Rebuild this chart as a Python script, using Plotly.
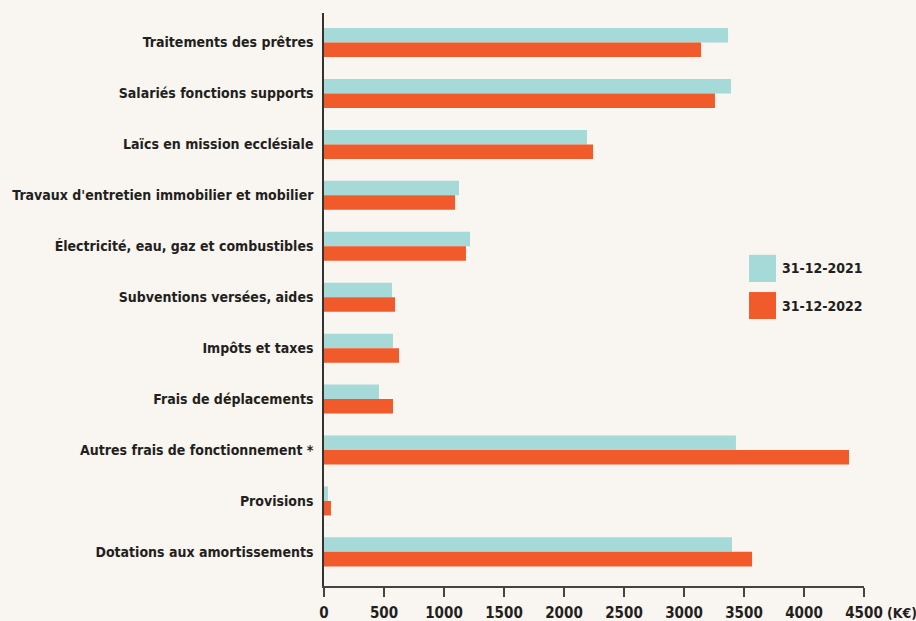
import plotly.graph_objects as go

categories = [
    "Traitements des prêtres",
    "Salariés fonctions supports",
    "Laïcs en mission ecclésiale",
    "Travaux d'entretien immobilier et mobilier",
    "Électricité, eau, gaz et combustibles",
    "Subventions versées, aides",
    "Impôts et taxes",
    "Frais de déplacements",
    "Autres frais de fonctionnement *",
    "Provisions",
    "Dotations aux amortissements",
]
values_2021 = [3367, 3392, 2192, 1125, 1217, 567, 575, 458, 3433, 33, 3400]
values_2022 = [3142, 3258, 2242, 1092, 1183, 592, 625, 575, 4375, 58, 3567]
series_names = ["31-12-2021", "31-12-2022"]
x_ticks = [0, 500, 1000, 1500, 2000, 2500, 3000, 3500, 4000, 4500]

TEAL = "#a6dad8"
ORANGE = "#f15a2b"
BG = "#f9f5f0"
TXT = "#231f20"
FONT = "DejaVu Sans Condensed"

fig = go.Figure()
fig.add_trace(go.Bar(y=categories, x=values_2021, orientation="h", name=series_names[0],
                     marker=dict(color=TEAL, line=dict(width=0)), showlegend=False))
fig.add_trace(go.Bar(y=categories, x=values_2022, orientation="h", name=series_names[1],
                     marker=dict(color=ORANGE, line=dict(width=0)), showlegend=False))

fig.update_layout(
    width=916, height=621,
    barmode="group", bargap=0.43, bargroupgap=0,
    paper_bgcolor=BG, plot_bgcolor=BG,
    margin=dict(l=324, r=52, t=13, b=35),
    font=dict(family=FONT, color=TXT, size=14, weight="bold"),
)
fig.update_xaxes(range=[0, 4500], tickvals=x_ticks, ticktext=[str(v) for v in x_ticks],
                 showgrid=False, zeroline=False, showline=True, linecolor="#444", linewidth=1.5,
                 ticks="outside", ticklen=9, tickwidth=1.5, tickcolor="#444", automargin=False,
                 ticklabelstandoff=3,
                 tickfont=dict(family=FONT, size=15, color=TXT, weight="bold"))
fig.update_yaxes(categoryorder="array", categoryarray=categories, range=[10.67, -0.58],
                 showgrid=False, zeroline=False, showline=True, linecolor="#333", linewidth=1.5,
                 ticks="", ticklabelstandoff=6, automargin=False,
                 tickfont=dict(family=FONT, size=14, color=TXT, weight="bold"))

# legend
legend_items = [(series_names[0], TEAL, 0.578, 0.5305), (series_names[1], ORANGE, 0.513, 0.466)]
for name, col, y1, y0 in legend_items:
    fig.add_shape(type="rect", xref="paper", yref="paper", x0=0.787, x1=0.837, y0=y0, y1=y1,
                  fillcolor=col, line=dict(width=0))
    fig.add_annotation(xref="paper", yref="paper", x=0.845, y=(y0 + y1) / 2, text=name,
                       showarrow=False, xanchor="left", yanchor="middle",
                       font=dict(family=FONT, size=14, color=TXT, weight="bold"))

fig.add_annotation(xref="paper", yref="paper", x=1.0, xshift=21, y=0, yshift=-27, text="(K€)",
                   showarrow=False, xanchor="left", yanchor="middle",
                   font=dict(family=FONT, size=14, color=TXT, weight="bold"))

fig.write_html("out.html", config={"displayModeBar": False},
               post_script="document.body.style.margin='0';")
